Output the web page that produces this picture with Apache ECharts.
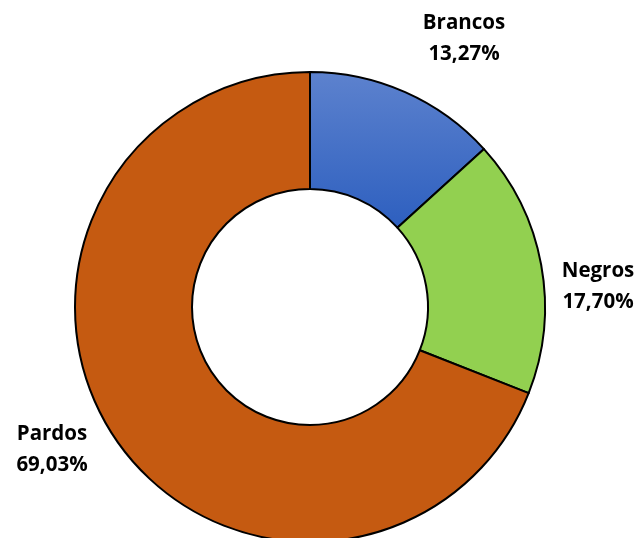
<!DOCTYPE html>
<html>
<head>
<meta charset="utf-8">
<script src="https://cdn.jsdelivr.net/npm/echarts@6/dist/echarts.min.js"></script>
<style>
  html, body { margin: 0; padding: 0; background: #fff; }
  #chart { width: 642px; height: 538px; }
</style>
</head>
<body>
<div id="chart"></div>
<script>
// Population share by colour/race group
const categories = ['Brancos', 'Negros', 'Pardos'];
const shares = [13.27, 17.70, 69.03];
const colors = [
  { type: 'linear', x: 0, y: 0, x2: 0, y2: 1,
    colorStops: [{ offset: 0, color: '#5d82ce' }, { offset: 1, color: '#2d5fbf' }] },
  '#92d050',
  '#c55a11'
];

const chart = echarts.init(document.getElementById('chart'));

const data = categories.map((name, i) => ({
  name,
  value: shares[i],
  itemStyle: { color: colors[i] }
}));

const fmt = v => v.toFixed(2).replace('.', ',') + '%';

// label centres around the ring
const labelAnchors = [[464, 39], [598, 287], [52, 450]];

chart.setOption({
  animation: false,
  series: [{
    type: 'pie',
    center: [310, 307],
    radius: [118, 235],
    startAngle: 90,
    clockwise: true,
    itemStyle: { borderColor: '#000', borderWidth: 2 },
    label: {
      show: true,
      position: 'outside',
      formatter: p => p.name + '\n' + fmt(p.value),
      fontFamily: 'Open Sans',
      fontWeight: 'bold',
      fontSize: 20.5,
      lineHeight: 31,
      color: '#000',
      overflow: 'none'
    },
    labelLine: { show: false },
    labelLayout: p => ({
      x: labelAnchors[p.dataIndex][0],
      y: labelAnchors[p.dataIndex][1],
      align: 'center',
      verticalAlign: 'middle'
    }),
    emphasis: { disabled: true },
    data
  }]
});
</script>
</body>
</html>
